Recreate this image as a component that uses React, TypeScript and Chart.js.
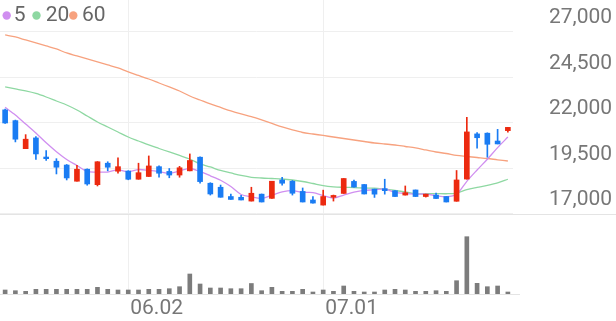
import React, { useEffect, useRef } from 'react';
import { Chart, registerables } from 'chart.js';

Chart.register(...registerables);

// ---- data ----
const DATES = [
  '05.15', '05.16', '05.19', '05.20', '05.21', '05.22', '05.23', '05.26', '05.27', '05.28', '05.29', '05.30',
  '06.02', '06.04', '06.05', '06.09', '06.10', '06.11', '06.12', '06.13', '06.16', '06.17', '06.18', '06.19',
  '06.20', '06.23', '06.24', '06.25', '06.26', '06.27', '06.30',
  '07.01', '07.02', '07.03', '07.04', '07.07', '07.08', '07.09', '07.10', '07.11', '07.14', '07.15', '07.16',
  '07.17', '07.18', '07.21', '07.22', '07.23', '07.24', '07.25',
];
const X_TICK_LABELS = ['06.02', '07.01'];
const Y_TICKS = [17000, 19500, 22000, 24500, 27000];

const OPEN = [22720, 22130, 20590, 21180, 20130, 19900, 19690, 18800, 19460, 18610, 19790, 19350, 19360, 18910, 19060, 19600, 19340, 19140, 19370, 20120, 18690, 18470, 17960, 17920, 17710, 18090, 17860, 18870, 18800, 18240, 17770, 17490, 17920, 18130, 18790, 18620, 18370, 18390, 18280, 18040, 18320, 17960, 18040, 17960, 17700, 18920, 21400, 21440, 21010, 21580];
const HIGH = [22770, 22160, 21360, 21250, 20480, 20040, 19720, 19680, 19480, 19880, 19870, 20080, 19380, 19790, 20190, 19640, 19500, 19620, 20300, 20140, 18720, 18590, 18090, 18020, 18470, 18100, 18800, 19020, 18840, 18430, 17960, 18310, 18040, 18950, 18870, 18620, 18370, 18910, 18280, 18540, 18320, 18090, 18150, 17960, 19390, 22310, 21470, 21460, 21650, 21760];
const LOW = [21980, 20960, 20590, 20000, 19940, 19200, 18870, 18800, 18580, 18540, 19370, 19240, 18880, 18910, 19060, 19020, 18990, 19020, 19370, 18700, 18040, 17920, 17800, 17770, 17710, 17660, 17860, 18590, 18040, 17660, 17600, 17490, 17710, 18130, 18480, 18100, 17910, 18090, 17960, 18040, 17960, 17930, 17850, 17660, 17700, 18920, 20610, 20120, 20850, 21490];
const CLOSE = [22000, 21110, 21110, 20300, 20040, 19570, 18980, 19460, 18650, 19870, 19570, 19600, 18910, 19270, 19640, 19240, 19140, 19540, 19940, 18780, 18100, 17920, 17800, 17770, 18140, 17660, 18800, 18690, 18140, 17660, 17600, 17960, 18020, 18950, 18480, 18100, 18090, 18280, 17960, 18170, 17960, 18090, 17850, 17660, 18870, 21510, 21190, 20830, 20850, 21760];
const VOLUME = [40000, 33000, 27000, 47000, 47000, 47000, 47000, 47000, 47000, 67000, 47000, 40000, 40000, 40000, 47000, 47000, 53000, 73000, 200000, 100000, 60000, 60000, 53000, 53000, 105000, 33000, 67000, 27000, 27000, 47000, 20000, 40000, 27000, 80000, 27000, 20000, 20000, 40000, 47000, 40000, 27000, 27000, 33000, 27000, 133000, 573000, 107000, 73000, 80000, 20000];

const MA5 = [22863, 22440, 21946, 21451, 20909, 20422, 19997, 19667, 19337, 19305, 19305, 19429, 19319, 19443, 19396, 19330, 19237, 19365, 19499, 19326, 19099, 18855, 18506, 18072, 17944, 17856, 18032, 18210, 18283, 18187, 18176, 18009, 17875, 18038, 18202, 18301, 18328, 18380, 18183, 18121, 18094, 18094, 18008, 17947, 18087, 18796, 19416, 20011, 20649, 21228];
const MA20 = [23979, 23869, 23759, 23621, 23429, 23209, 22990, 22715, 22385, 22055, 21781, 21506, 21231, 21011, 20792, 20599, 20407, 20215, 20022, 19750, 19583, 19390, 19253, 19116, 19017, 18978, 18951, 18923, 18868, 18786, 18676, 18560, 18495, 18467, 18451, 18429, 18418, 18357, 18291, 18209, 18106, 18115, 18118, 18112, 18149, 18341, 18461, 18568, 18704, 18909];
const MA60 = [26836, 26726, 26561, 26396, 26232, 26067, 25847, 25682, 25517, 25352, 25188, 25023, 24803, 24611, 24418, 24198, 23979, 23759, 23484, 23264, 23045, 22852, 22660, 22495, 22347, 22165, 21973, 21781, 21616, 21478, 21396, 21314, 21231, 21149, 21066, 20984, 20901, 20847, 20792, 20709, 20627, 20517, 20407, 20324, 20215, 20160, 20105, 20050, 19978, 19912];

const MA_LABELS = ['5', '20', '60'];

// axis ranges
const PRICE_MIN = 12604;
const PRICE_MAX = 28758;
const VOL_MAX = 2940000;

// ---- styles ----
const UP = '#ec2a10';
const DOWN = '#1a7cf3';
const MA_COLORS = ['#d08ff0', '#8ed8a2', '#f7a27f'];
const GRID = '#efefef';
const TEXT = '#777777';
const FONT = { family: 'Roboto', size: 21 };

const decorPlugin = {
  id: 'decor',
  beforeDatasetsDraw(chart: any) {
    const { ctx, chartArea, scales } = chart;
    ctx.save();
    ctx.lineWidth = 1;
    ctx.strokeStyle = '#e4e4e4';
    const ySep = Math.round(scales.y.getPixelForValue(Y_TICKS[0])) + 0.5;
    ctx.beginPath();
    ctx.moveTo(0, ySep);
    ctx.lineTo(chart.width, ySep);
    ctx.stroke();
    const yb = Math.round(chartArea.bottom) + 0.5;
    ctx.beginPath();
    ctx.moveTo(0, yb);
    ctx.lineTo(chartArea.right + 7, yb);
    ctx.stroke();
    ctx.restore();
  },
  afterDraw(chart: any) {
    const { ctx } = chart;
    const dotX = [6.7, 36.5, 73.3];
    const textX = [13.8, 45.8, 82];
    ctx.save();
    ctx.font = '21px Roboto';
    ctx.textBaseline = 'alphabetic';
    ctx.textAlign = 'left';
    MA_LABELS.forEach((lab, i) => {
      ctx.fillStyle = MA_COLORS[i];
      ctx.beginPath();
      ctx.arc(dotX[i], 15.5, 4.2, 0, Math.PI * 2);
      ctx.fill();
      ctx.fillStyle = '#666666';
      ctx.fillText(lab, textX[i], 20.7);
    });
    ctx.restore();
  },
};

export default function App() {
  const ref = useRef<HTMLCanvasElement>(null);

  useEffect(() => {
    const canvas = ref.current!;
    const colors = OPEN.map((o, i) => (CLOSE[i] >= o ? UP : DOWN));
    const maLine = (data: number[], color: string, order: number) => ({
      type: 'line' as const,
      data,
      borderColor: color,
      borderWidth: 1.3,
      pointRadius: 0,
      tension: 0.3,
      fill: false,
      yAxisID: 'y',
      order,
    });
    const chart = new Chart(canvas, {
      type: 'bar',
      data: {
        labels: DATES,
        datasets: [
          maLine(MA60, MA_COLORS[2], 6),
          maLine(MA20, MA_COLORS[1], 5),
          maLine(MA5, MA_COLORS[0], 4),
          {
            type: 'bar',
            data: VOLUME,
            backgroundColor: '#7c7c7c',
            barThickness: 4,
            grouped: false,
            yAxisID: 'yv',
            order: 3,
          },
          {
            type: 'bar',
            data: HIGH.map((h, i) => [LOW[i], h]),
            backgroundColor: colors,
            barThickness: 1,
            grouped: false,
            yAxisID: 'y',
            order: 2,
          },
          {
            type: 'bar',
            data: OPEN.map((o, i) => [o, CLOSE[i]]),
            backgroundColor: colors,
            barThickness: 5,
            grouped: false,
            yAxisID: 'y',
            order: 1,
          },
        ] as any,
      },
      options: {
        responsive: false,
        animation: false,
        devicePixelRatio: 1,
        layout: { padding: 0 },
        plugins: {
          legend: { display: false },
          tooltip: { enabled: false },
        },
        scales: {
          x: {
            type: 'category',
            offset: true,
            grid: { offset: false, color: GRID, drawTicks: false, lineWidth: 1 },
            border: { display: false },
            ticks: {
              autoSkip: false,
              maxRotation: 0,
              minRotation: 0,
              align: 'start',
              padding: 2,
              labelOffset: 2,
              color: TEXT,
              font: FONT,
            },
            afterBuildTicks: (s: any) => {
              s.ticks = s.ticks.filter((t: any) => X_TICK_LABELS.includes(DATES[t.value]));
            },
            afterFit: (s: any) => {
              s.height = 27;
              s.paddingLeft = 0;
              s.paddingRight = 0;
              s.paddingTop = 0;
              s.paddingBottom = 0;
            },
          },
          y: {
            type: 'linear',
            position: 'right',
            min: PRICE_MIN,
            max: PRICE_MAX,
            grid: { color: GRID, drawTicks: false, lineWidth: 1 },
            border: { display: false },
            ticks: {
              padding: 36,
              labelOffset: -14,
              color: TEXT,
              font: FONT,
              callback: (v: any) => Number(v).toLocaleString('en-US'),
            },
            afterBuildTicks: (s: any) => {
              s.ticks = Y_TICKS.map((v) => ({ value: v }));
            },
            afterFit: (s: any) => {
              s.width = 103;
              s.paddingTop = 0;
              s.paddingBottom = 0;
              s.paddingLeft = 0;
              s.paddingRight = 0;
            },
          },
          yv: {
            type: 'linear',
            display: false,
            min: 0,
            max: VOL_MAX,
          },
        },
      } as any,
      plugins: [decorPlugin],
    });
    return () => chart.destroy();
  }, []);

  return (
    <div style={{ position: 'fixed', left: 0, top: 0, width: 616, height: 321, background: '#ffffff' }}>
      <canvas ref={ref} width={616} height={321} style={{ display: 'block' }} />
    </div>
  );
}
